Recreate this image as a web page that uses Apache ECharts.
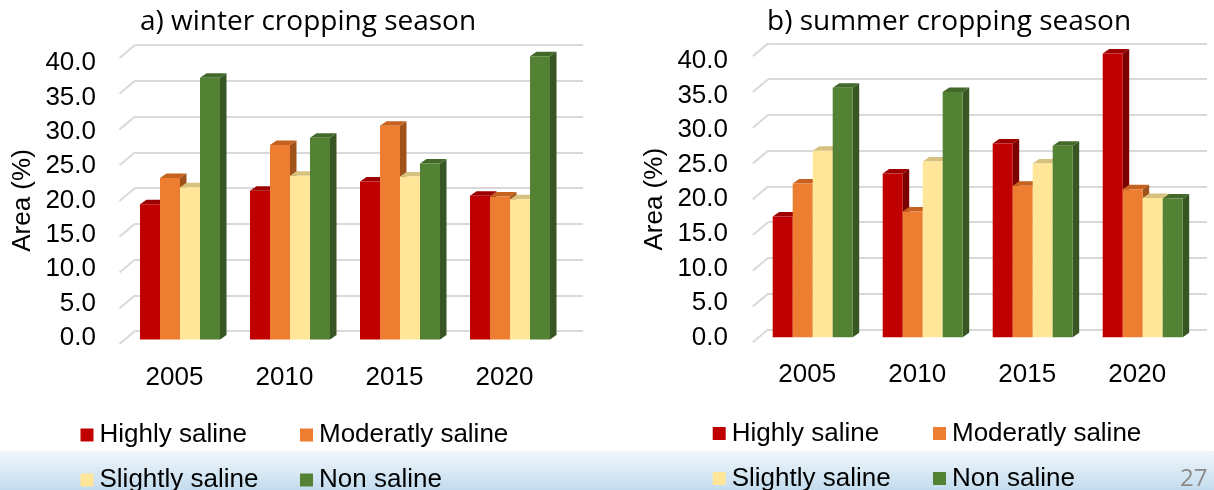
<!DOCTYPE html>
<html>
<head>
<meta charset="utf-8">
<script src="https://cdn.jsdelivr.net/npm/echarts@6/dist/echarts.min.js"></script>
<style>
  html, body { margin: 0; padding: 0; background: #ffffff; }
  #chart { width: 1214px; height: 490px; }
</style>
</head>
<body>
<div id="chart"></div>
<script>
// Share of land area (%) by salinity class, per survey year
const years = ['2005', '2010', '2015', '2020'];
const classNames = ['Highly saline', 'Moderatly saline', 'Slightly saline', 'Non saline'];

const winterHighly     = [18.9, 20.8, 22.1, 20.1];
const winterModerately = [22.6, 27.2, 29.9, 20.0];
const winterSlightly   = [21.3, 22.9, 22.8, 19.6];
const winterNon        = [36.6, 28.2, 24.6, 39.6];

const summerHighly     = [16.9, 22.9, 27.1, 39.7];
const summerModerately = [21.5, 17.6, 21.2, 20.7];
const summerSlightly   = [26.1, 24.6, 24.3, 19.5];
const summerNon        = [34.9, 34.3, 26.8, 19.4];

const yTickValues = [0, 5, 10, 15, 20, 25, 30, 35, 40];
const titles = ['a) winter cropping season', 'b) summer cropping season'];
const yAxisName = 'Area (%)';
const pageNumber = '27';

// front, top and side shades of each class
const palette = [
  { front: '#c00000', top: '#9c0000', side: '#7c0000' },
  { front: '#ed7d31', top: '#c5621f', side: '#a0521b' },
  { front: '#ffe699', top: '#d6c17f', side: '#bca86a' },
  { front: '#548235', top: '#43692a', side: '#375623' }
];

const W = 1214, H = 490;
const BAR_FILL = 80 / 110;       // share of each category band covered by the 4 bars
const BAR_DX = 6.5, BAR_DY = 4.5; // bar depth in projection
const WALL_DX = 15.5, WALL_DY = 13; // floor depth to the back wall

// two panels: front plane (bars), back wall (gridlines), label column
const panels = [
  {
    front: { left: 125, width: 440, top: 53.5, bottom: H - 339.5 },
    back:  { left: 135, right: W - 583, top: 45, bottom: H - 331 },
    labels:{ left: 100, width: 10, top: 63, bottom: H - 338 },
    title: { left: 140 },
    series: [winterHighly, winterModerately, winterSlightly, winterNon],
    legend: [[80.5, 0], [300, 0], [80.5, 1], [300, 1]],
    legendTop: [422, 467]
  },
  {
    front: { left: 757.7, width: 440, top: 51.3, bottom: H - 337.3 },
    back:  { left: 768.3, right: W - 1207, top: 43.3, bottom: H - 329.3 },
    labels:{ left: 732, width: 10, top: 61, bottom: H - 337.5 },
    title: { left: 767 },
    series: [summerHighly, summerModerately, summerSlightly, summerNon],
    legend: [[712.7, 0], [933, 0], [712.7, 1], [933, 1]],
    legendTop: [420.5, 465.5]
  }
];

function barItem(classIdx) {
  const c = palette[classIdx];
  return function (params, api) {
    const cat = api.value(0);
    const val = api.value(1);
    const band = api.size([1, 0])[0];
    const groupW = band * BAR_FILL;
    const w = groupW / 4;
    const p = api.coord([cat, val]);
    const b = api.coord([cat, 0]);
    const x0 = p[0] - groupW / 2 + classIdx * w;
    const top = p[1], bot = b[1];
    return {
      type: 'group',
      children: [
        { type: 'polygon', shape: { points: [[x0 + w, top], [x0 + w + BAR_DX, top - BAR_DY], [x0 + w + BAR_DX, bot - BAR_DY], [x0 + w, bot]] },
          style: { fill: c.side } },
        { type: 'polygon', shape: { points: [[x0, top], [x0 + BAR_DX, top - BAR_DY], [x0 + w + BAR_DX, top - BAR_DY], [x0 + w, top]] },
          style: { fill: c.top } },
        { type: 'rect', shape: { x: x0, y: top, width: w, height: bot - top },
          style: { fill: c.front } }
      ]
    };
  };
}

function floorDiagonal(params, api) {
  const p = api.coord([0, api.value(0)]);
  return {
    type: 'line',
    shape: { x1: p[0] - WALL_DX, y1: p[1] + WALL_DY, x2: p[0], y2: p[1] },
    style: { stroke: '#d9d9d9', lineWidth: 2 }
  };
}

const grid = [], xAxis = [], yAxis = [], series = [], legend = [], title = [];

panels.forEach(function (pn, k) {
  const gFront = grid.length;
  grid.push({ left: pn.front.left, width: pn.front.width, top: pn.front.top, bottom: pn.front.bottom });
  grid.push({ left: pn.back.left, right: pn.back.right, top: pn.back.top, bottom: pn.back.bottom });
  grid.push({ left: pn.labels.left, width: pn.labels.width, top: pn.labels.top, bottom: pn.labels.bottom });

  // front plane: categories and bar heights
  xAxis.push({
    gridIndex: gFront, type: 'category', data: years,
    axisLine: { show: false }, axisTick: { show: false }, splitLine: { show: false },
    axisLabel: { fontSize: 26, fontFamily: 'Liberation Sans', color: '#000', margin: 25, padding: [0, 11, 0, 0] }
  });
  yAxis.push({ gridIndex: gFront, type: 'value', min: 0, max: 40, interval: 5, show: false });

  // back wall: gridlines
  xAxis.push({ gridIndex: gFront + 1, type: 'value', min: 0, max: 1, show: false });
  yAxis.push({
    gridIndex: gFront + 1, type: 'value', min: 0, max: 40, interval: 5,
    axisLine: { show: false }, axisTick: { show: false }, axisLabel: { show: false },
    splitLine: { show: true, lineStyle: { color: '#d9d9d9', width: 2 } }
  });

  // tick labels and axis name
  xAxis.push({ gridIndex: gFront + 2, type: 'value', min: 0, max: 1, show: false });
  yAxis.push({
    gridIndex: gFront + 2, type: 'value', min: 0, max: 40, interval: 5,
    axisLine: { show: false }, axisTick: { show: false }, splitLine: { show: false },
    axisLabel: { fontSize: 26, fontFamily: 'Liberation Sans', color: '#000', margin: 4,
      formatter: function (v) { return v.toFixed(1); } },
    name: yAxisName, nameLocation: 'middle', nameGap: 64, nameRotate: 90,
    nameTextStyle: { fontSize: 26, fontFamily: 'Liberation Sans', color: '#000' }
  });

  series.push({
    type: 'custom', xAxisIndex: gFront + 1, yAxisIndex: gFront + 1, silent: true,
    renderItem: floorDiagonal, data: yTickValues.map(function (v) { return [v]; }), z: 1
  });

  pn.series.forEach(function (vals, ci) {
    series.push({
      type: 'custom', name: classNames[ci], xAxisIndex: gFront, yAxisIndex: gFront,
      itemStyle: { color: palette[ci].front },
      renderItem: barItem(ci),
      encode: { x: 0, y: 1 },
      data: vals.map(function (v, i) { return [i, v]; }),
      z: 3
    });
  });

  title.push({
    text: titles[k], left: pn.title.left, top: 8, padding: 0,
    textStyle: { fontSize: 28, fontFamily: 'Open Sans', fontWeight: 'normal', color: '#000' }
  });

  pn.legend.forEach(function (pos, ci) {
    legend.push({
      data: [{ name: classNames[ci], icon: 'rect' }],
      left: pos[0], top: pn.legendTop[pos[1]], padding: 0,
      itemWidth: 13, itemHeight: 13, itemGap: 0, selectedMode: false,
      textStyle: { fontSize: 26, fontFamily: 'Liberation Sans', color: '#000', padding: [0, 0, 0, 1] }
    });
  });
});

const chart = echarts.init(document.getElementById('chart'), null, { renderer: 'canvas' });
chart.setOption({
  backgroundColor: '#ffffff',
  animation: false,
  title: title,
  grid: grid,
  xAxis: xAxis,
  yAxis: yAxis,
  legend: legend,
  series: series,
  graphic: [
    {
      type: 'rect', z: -10, silent: true,
      shape: { x: 0, y: 451, width: W, height: H - 451 },
      style: { fill: new echarts.graphic.LinearGradient(0, 0, 0, 1, [
        { offset: 0, color: '#f2f7fb' },
        { offset: 1, color: '#c3dcee' }
      ]) }
    },
    {
      type: 'text', z: 5, silent: true, left: 1180, top: 467,
      style: { text: pageNumber, fontSize: 24, fontFamily: 'Open Sans', fill: '#8a8a8a' }
    }
  ]
});
</script>
</body>
</html>
